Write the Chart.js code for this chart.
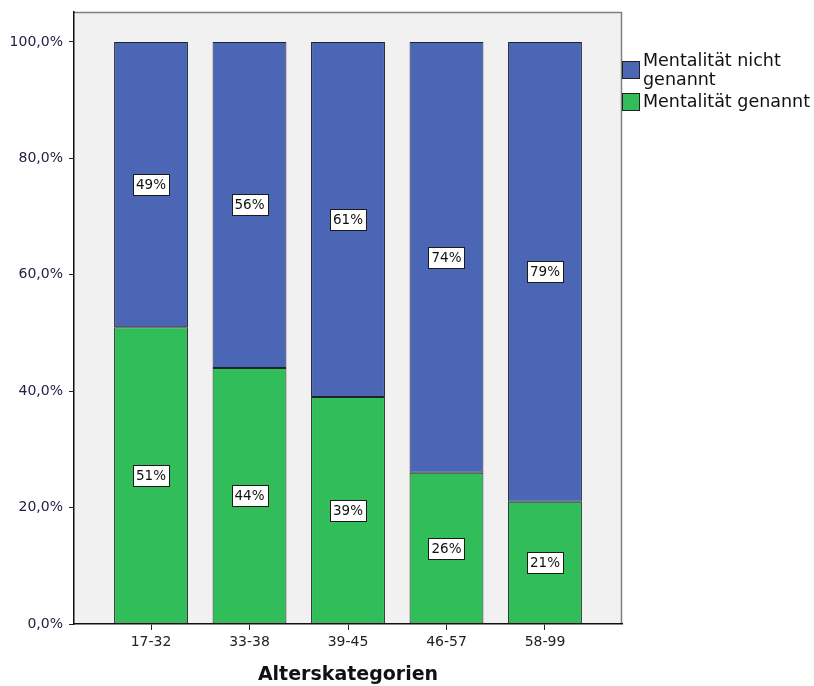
<!DOCTYPE html>
<html>
<head>
<meta charset="utf-8">
<script src="https://cdn.jsdelivr.net/npm/chart.js@4/dist/chart.umd.min.js"></script>
<style>
  html, body { margin: 0; padding: 0; background: #ffffff; }
  #wrap { width: 814px; height: 686px; }
</style>
</head>
<body>
<div id="wrap"><canvas id="c" width="814" height="686"></canvas></div>
<script>
// Age groups and shares (percent) of respondents
const categories = ['17-32', '33-38', '39-45', '46-57', '58-99'];
const genannt = [51, 44, 39, 26, 21];
const nichtGenannt = [49, 56, 61, 74, 79];
const yTicks = [0, 20, 40, 60, 80, 100];
const seriesNames = ['Mentalität nicht genannt', 'Mentalität genannt'];
const legendLines = [['Mentalität nicht', 'genannt'], ['Mentalität genannt']];

const BLUE = '#4a66b5';
const GREEN = '#31bd5a';
const FONT = '"DejaVu Sans", sans-serif';

const toPoints = arr => arr.map((v, i) => ({ x: i, y: v }));
const fmtPct = v => v.toFixed(1).replace('.', ',') + '%';

// Grey plot panel with thin frame on top and right
const panel = {
  id: 'panel',
  beforeDraw(chart) {
    const { ctx, chartArea: a } = chart;
    ctx.save();
    ctx.fillStyle = '#f1f1f1';
    ctx.fillRect(a.left, a.top, a.right - a.left, a.bottom - a.top);
    ctx.strokeStyle = '#808080';
    ctx.lineWidth = 1.5;
    ctx.beginPath();
    ctx.moveTo(a.left, a.top + 0.5);
    ctx.lineTo(a.right - 0.5, a.top + 0.5);
    ctx.lineTo(a.right - 0.5, a.bottom);
    ctx.stroke();
    ctx.restore();
  }
};

// Boxed percentage labels centred in each segment
const boxLabels = {
  id: 'boxLabels',
  afterDatasetsDraw(chart) {
    const { ctx } = chart;
    ctx.save();
    ctx.font = '13.5px ' + FONT;
    ctx.textAlign = 'center';
    ctx.textBaseline = 'middle';
    chart.data.datasets.forEach((ds, di) => {
      const meta = chart.getDatasetMeta(di);
      meta.data.forEach((bar, i) => {
        const p = bar.getProps(['x', 'y', 'base'], true);
        const cy = (p.y + p.base) / 2;
        const txt = Math.round(ds.data[i].y) + '%';
        const w = 36, h = 21;
        const bx = Math.round(p.x - w / 2) + 0.5, by = Math.round(cy - h / 2) + 0.5;
        ctx.fillStyle = '#ffffff';
        ctx.fillRect(bx, by, w, h);
        ctx.strokeStyle = '#1a1a1a';
        ctx.lineWidth = 1;
        ctx.strokeRect(bx, by, w, h);
        ctx.fillStyle = '#111111';
        ctx.fillText(txt, p.x, cy + 1);
      });
    });
    ctx.restore();
  }
};

// Legend at the right of the panel
const sideLegend = {
  id: 'sideLegend',
  afterDraw(chart) {
    const { ctx } = chart;
    const colors = [BLUE, GREEN];
    const boxY = [61, 93];
    const baseY = [[66, 85], [107]];
    ctx.save();
    ctx.font = '17.5px ' + FONT;
    ctx.textAlign = 'left';
    ctx.textBaseline = 'alphabetic';
    colors.forEach((c, k) => {
      ctx.fillStyle = c;
      ctx.fillRect(622.5, boxY[k] + 0.5, 17, 17);
      ctx.strokeStyle = '#222222';
      ctx.lineWidth = 1;
      ctx.strokeRect(622.5, boxY[k] + 0.5, 17, 17);
      ctx.fillStyle = '#111111';
      legendLines[k].forEach((line, j) => ctx.fillText(line, 643, baseY[k][j]));
    });
    ctx.restore();
  }
};

new Chart(document.getElementById('c'), {
  type: 'bar',
  data: {
    datasets: [
      {
        label: seriesNames[1],
        data: toPoints(genannt),
        backgroundColor: GREEN,
        borderColor: '#1e2a22',
        borderWidth: 1,
        borderSkipped: false
      },
      {
        label: seriesNames[0],
        data: toPoints(nichtGenannt),
        backgroundColor: BLUE,
        borderColor: '#1c2130',
        borderWidth: 1,
        borderSkipped: false
      }
    ]
  },
  plugins: [panel, boxLabels, sideLegend],
  options: {
    responsive: false,
    animation: false,
    layout: { padding: { top: 12, right: 192, left: 0, bottom: 0 } },
    datasets: { bar: { barPercentage: 0.75, categoryPercentage: 1 } },
    plugins: { legend: { display: false }, tooltip: { enabled: false } },
    scales: {
      x: {
        type: 'linear',
        stacked: true,
        offset: false,
        min: -0.782,
        max: 4.782,
        afterBuildTicks: s => { s.ticks = categories.map((_, i) => ({ value: i })); },
        afterFit: s => { s.height = 62; },
        grid: { drawOnChartArea: false, drawTicks: true, tickLength: 6, color: '#222222', tickWidth: 1, offset: false },
        border: { display: true, color: '#111111', width: 1.5 },
        ticks: {
          callback: v => categories[v],
          color: '#222222',
          font: { family: FONT, size: 14 },
          padding: 4,
          maxRotation: 0,
          autoSkip: false
        },
        title: {
          display: true,
          text: 'Alterskategorien',
          color: '#111111',
          font: { family: FONT, size: 19, weight: 'bold' },
          padding: { top: 8, bottom: 0 }
        }
      },
      y: {
        stacked: true,
        min: 0,
        max: 105.15,
        afterBuildTicks: s => { s.ticks = yTicks.map(v => ({ value: v })); },
        afterFit: s => { s.width = 74; s.paddingTop = 0; s.paddingBottom = 0; },
        grid: { drawOnChartArea: false, drawTicks: true, tickLength: 5, color: '#222222' },
        border: { display: true, color: '#111111', width: 1.5 },
        ticks: {
          callback: v => fmtPct(v),
          color: '#222244',
          font: { family: FONT, size: 14 },
          padding: 6
        }
      }
    }
  }
});
</script>
</body>
</html>
